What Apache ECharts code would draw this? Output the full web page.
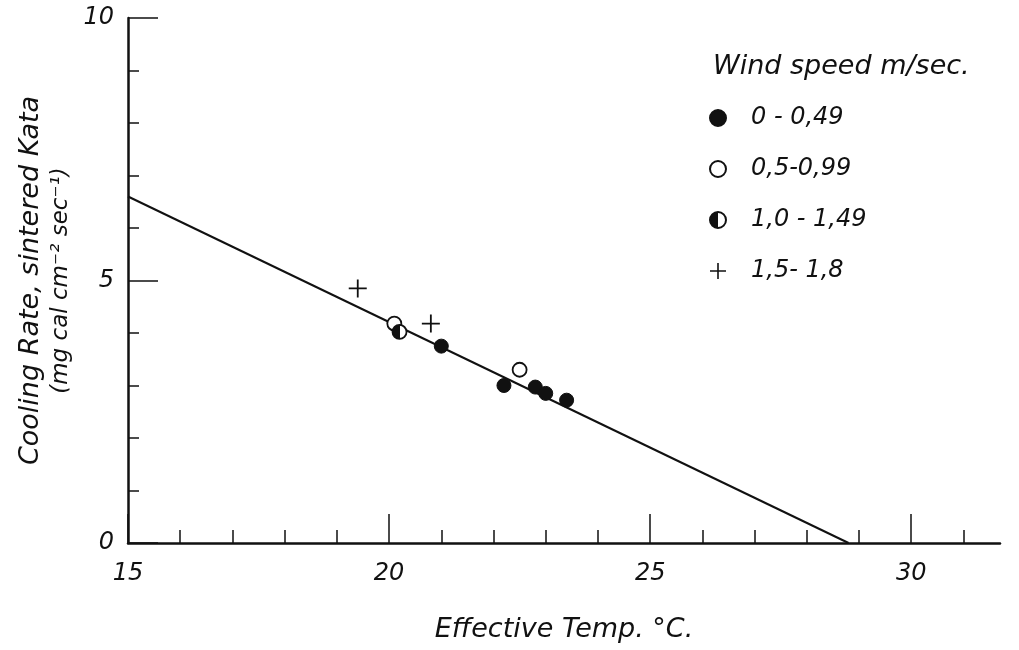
<!DOCTYPE html>
<html>
<head>
<meta charset="utf-8">
<script src="https://cdn.jsdelivr.net/npm/echarts@6/dist/echarts.min.js"></script>
<style>html,body{margin:0;padding:0;background:#fff;}#c{width:1019px;height:650px;}</style>
</head>
<body>
<div id="c"></div>
<script>
// Data
const seriesNames = ['0 - 0,49', '0,5-0,99', '1,0 - 1,49', '1,5- 1,8'];
const calmX = [21.0, 22.2, 22.8, 23.0, 23.4];
const calmY = [3.75, 3.0, 2.97, 2.85, 2.72];
const lightX = [20.1, 22.5];
const lightY = [4.18, 3.3];
const moderateX = [20.2];
const moderateY = [4.02];
const strongX = [19.4, 20.8];
const strongY = [4.85, 4.18];
const fitX = [15, 28.8];
const fitY = [6.6, 0];
const xMajorTicks = [15, 20, 25, 30];
const xMinorTicks = [16, 17, 18, 19, 21, 22, 23, 24, 26, 27, 28, 29, 31];
const yMajorTicks = [0, 5, 10];
const yMinorTicks = [1, 2, 3, 4, 6, 7, 8, 9];

const pairs = (xs, ys) => xs.map((x, i) => [x, ys[i]]);
const ink = '#111';
const font = 'DejaVu Sans';
const txt = {fontFamily: font, fontStyle: 'italic', color: ink};

const chart = echarts.init(document.getElementById('c'), null, {renderer: 'canvas'});
const plusPath = 'path://M0,9H20V11H0Z M9,0H11V20H9Z';
const halfFill = {
  type: 'linear', x: 0, y: 0, x2: 1, y2: 0,
  colorStops: [
    {offset: 0, color: ink}, {offset: 0.5, color: ink},
    {offset: 0.5, color: '#fff'}, {offset: 1, color: '#fff'}
  ]
};

chart.setOption({
  backgroundColor: '#fff',
  animation: false,
  title: {
    text: 'Wind speed m/sec.',
    left: 708, top: 48,
    textStyle: Object.assign({fontSize: 27, fontWeight: 'normal'}, txt)
  },
  legend: {
    orient: 'vertical',
    left: 704, top: 101,
    itemWidth: 16, itemHeight: 16, itemGap: 27,
    data: seriesNames,
    textStyle: Object.assign({fontSize: 24, padding: [0, 0, 0, 20]}, txt)
  },
  grid: {left: 128, top: 18, right: 19, bottom: 107, containLabel: false},
  xAxis: [
    {
      type: 'value', min: 15, max: 31.7, position: 'bottom',
      name: 'Effective Temp. °C.', nameLocation: 'middle', nameGap: 73,
      nameTextStyle: Object.assign({fontSize: 27}, txt),
      axisLine: {show: true, lineStyle: {color: ink, width: 2.5}},
      axisTick: {show: true, inside: true, length: 29, customValues: xMajorTicks, lineStyle: {color: ink, width: 1.5}},
      axisLabel: Object.assign({customValues: xMajorTicks, fontSize: 24, margin: 19}, txt),
      splitLine: {show: false}
    },
    {
      type: 'value', min: 15, max: 31.7, position: 'bottom',
      axisLine: {show: false},
      axisTick: {show: true, inside: true, length: 13, customValues: xMinorTicks, lineStyle: {color: ink, width: 1.5}},
      axisLabel: {show: false},
      splitLine: {show: false}
    }
  ],
  yAxis: [
    {
      type: 'value', min: 0, max: 10, position: 'left',
      name: '{a|Cooling Rate, sintered Kata}\n{b|(mg cal cm⁻² sec⁻¹)}',
      nameLocation: 'middle', nameGap: 39, nameRotate: 90,
      nameTextStyle: Object.assign({
        rich: {
          a: Object.assign({fontSize: 27, lineHeight: 30}, txt),
          b: Object.assign({fontSize: 23, lineHeight: 30}, txt)
        }
      }, txt),
      axisLine: {show: true, lineStyle: {color: ink, width: 2.5}},
      axisTick: {show: true, inside: true, length: 30, customValues: yMajorTicks, lineStyle: {color: ink, width: 1.5}},
      axisLabel: Object.assign({customValues: yMajorTicks, fontSize: 24, margin: 14}, txt),
      splitLine: {show: false}
    },
    {
      type: 'value', min: 0, max: 10, position: 'left',
      axisLine: {show: false},
      axisTick: {show: true, inside: true, length: 11, customValues: yMinorTicks, lineStyle: {color: ink, width: 1.5}},
      axisLabel: {show: false},
      splitLine: {show: false}
    }
  ],
  series: [
    {
      type: 'line', data: pairs(fitX, fitY), symbol: 'none', silent: true,
      lineStyle: {color: ink, width: 2}, z: 1
    },
    {
      name: seriesNames[0], type: 'scatter', data: pairs(calmX, calmY),
      symbol: 'circle', symbolSize: 14,
      itemStyle: {color: ink, borderColor: ink, borderWidth: 1, opacity: 1}, z: 3
    },
    {
      name: seriesNames[1], type: 'scatter', data: pairs(lightX, lightY),
      symbol: 'circle', symbolSize: 14,
      itemStyle: {color: '#fff', borderColor: ink, borderWidth: 1.8, opacity: 1}, z: 3
    },
    {
      name: seriesNames[2], type: 'scatter', data: pairs(moderateX, moderateY),
      symbol: 'circle', symbolSize: 14,
      itemStyle: {color: halfFill, borderColor: ink, borderWidth: 1.8, opacity: 1}, z: 4
    },
    {
      name: seriesNames[3], type: 'scatter', data: pairs(strongX, strongY),
      symbol: plusPath, symbolSize: 18,
      itemStyle: {color: ink, opacity: 1}, z: 3
    }
  ]
});
</script>
</body>
</html>
